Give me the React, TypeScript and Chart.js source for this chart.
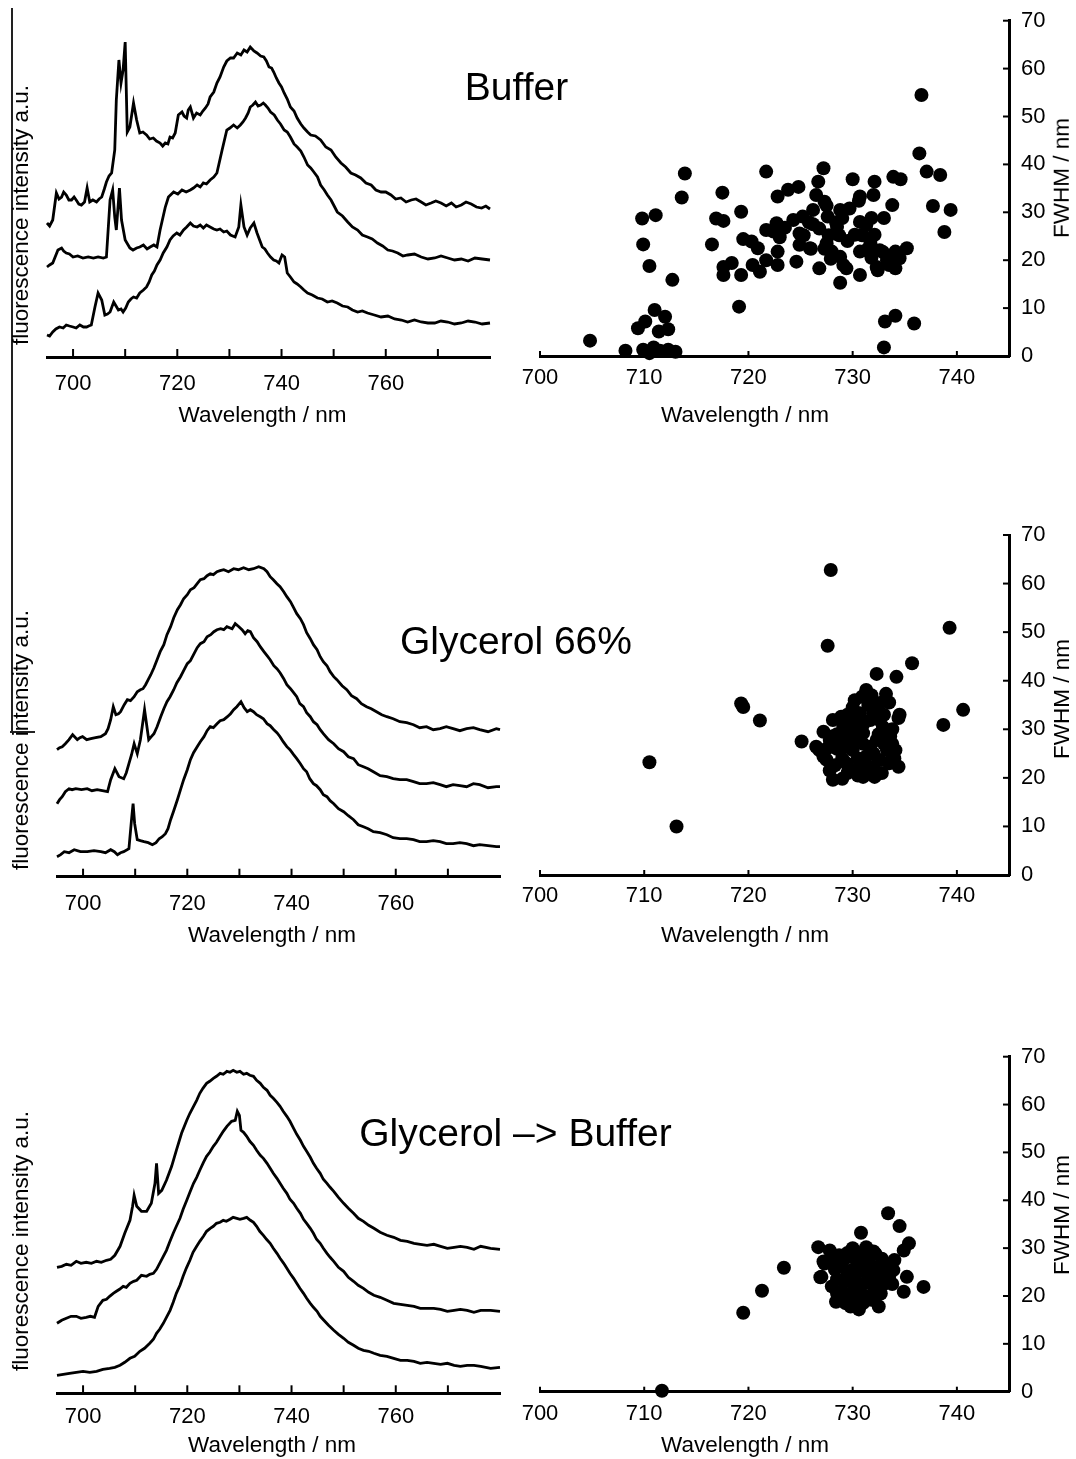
import React, { useEffect, useRef } from 'react';
import { Chart, registerables } from 'chart.js';

Chart.register(...registerables);

const FONT = '"Liberation Sans", Arial, Helvetica, sans-serif';
type Pt = [number, number];

// ---------- tick definitions ----------
const SPEC_TICKS = [700, 710, 720, 730, 740, 750, 760, 770];
const SPEC_LABELS = [700, 720, 740, 760];
const SCAT_X_TICKS = [700, 710, 720, 730, 740];
const SCAT_Y_TICKS = [0, 10, 20, 30, 40, 50, 60, 70];

// ---------- spectra: [wavelength nm, intensity a.u.] ----------
const bufferSpecTop: Pt[] = [[695,134],[695.5,131],[696.1,137],[696.8,164],[697.3,158],[697.8,160],[698.2,165],[698.7,162],[699.2,157],[699.7,157],[700.2,160],[700.6,157],[701.1,153],[701.6,152],[702.2,155],[702.7,169],[703.2,155],[703.8,157],[704.5,155],[705,158],[705.5,160],[706,168],[706.4,175],[706.9,181],[707.4,184],[708,207],[708.3,257],[708.8,297],[709.2,274],[709.6,287],[710,315],[710.4,225],[710.9,230],[711.6,254],[712.2,237],[712.8,224],[713.4,225],[714.1,222],[714.7,218],[715.4,219],[716,216],[716.7,214],[717.2,211],[717.7,214],[718.2,213],[718.6,220],[719.1,219],[719.6,224],[720.2,242],[720.9,245],[721.3,241],[721.8,239],[722.1,247],[722.5,250],[723.1,239],[723.7,244],[724.4,242],[724.9,246],[725.4,249],[725.9,253],[726.3,260],[727,265],[727.6,274],[728.2,280],[728.9,290],[729.5,296],[730.2,299],[730.8,299],[731.5,304],[732.2,302],[732.8,307],[733.4,305],[734,310],[734.7,306],[735.3,304],[736,301],[736.6,300],[737.1,296],[737.6,290],[738.1,289],[738.5,285],[739,279],[739.5,274],[740,270],[740.5,264],[741.1,258],[741.7,250],[742.4,246],[743,239],[743.7,233],[744.3,229],[745,225],[745.6,222],[746.5,221],[747.5,217],[748.5,210],[749.5,207],[750.4,200],[751.4,194],[752.3,190],[753.3,184],[754.2,182],[755.2,179],[756.2,174],[757.2,172],[758.1,167],[759.1,165],[760,165],[761,162],[761.9,158],[762.9,159],[763.9,155],[764.9,157],[765.8,158],[766.8,155],[767.7,152],[768.7,154],[769.6,156],[770.6,154],[771.6,151],[772.6,154],[773.5,150],[774.5,152],[775.4,155],[776.4,153],[777.4,150],[778.4,149],[779.2,151],[780,148]];
const bufferSpecMid: Pt[] = [[695,90],[695.5,92],[696.1,94],[697.1,107],[697.8,109],[698.2,106],[698.7,104],[699.3,103],[700,100],[700.9,101],[701.9,99],[702.9,100],[703.9,99],[704.8,100],[705.8,99],[706.4,100],[707.1,157],[707.6,167],[708,140],[708.3,127],[708.9,169],[709.3,137],[710,117],[710.9,109],[711.5,107],[712.2,109],[712.8,110],[713.5,112],[714.2,108],[714.8,110],[715.5,112],[716.1,110],[716.7,127],[717.7,150],[718.3,160],[719.3,165],[720.1,163],[720.9,167],[721.7,165],[722.5,167],[723.1,169],[723.8,172],[724.4,170],[725,174],[725.6,173],[726.3,177],[727,180],[727.6,184],[728.6,207],[729.5,227],[730.1,229],[730.8,232],[731.5,229],[732.1,232],[732.6,235],[733.1,239],[733.6,244],[734,250],[734.5,252],[735,255],[735.5,251],[736,252],[736.5,254],[736.9,252],[737.4,249],[737.9,245],[738.6,242],[739.2,237],[739.8,233],[740.5,227],[741.1,225],[741.7,220],[742.4,213],[743,210],[743.7,206],[744.3,200],[745,192],[745.6,189],[746.2,185],[746.9,180],[747.5,172],[748.2,167],[748.8,162],[749.5,157],[750.1,151],[750.7,145],[751.7,141],[752.7,135],[753.6,130],[754.6,127],[755.5,122],[756.5,120],[757.4,118],[758.4,114],[759.4,111],[760.4,107],[761.3,106],[762.3,104],[763.3,101],[764.2,102],[765.5,103],[766.8,100],[768.1,98],[769.4,99],[770.6,101],[771.9,99],[773.2,97],[774.5,98],[775.8,96],[777.1,99],[778.5,98],[780,97]];
const bufferSpecBot: Pt[] = [[695,22],[695.5,21],[696.1,25],[696.7,28],[697.4,30],[698.1,29],[698.7,32],[699.3,31],[700,30],[700.6,29],[701.3,32],[702,30],[702.6,30],[703,31],[703.5,32],[704.2,50],[704.8,64],[705.5,57],[706.1,42],[706.6,43],[707.1,45],[707.8,55],[708.7,47],[709.2,48],[709.6,45],[710.1,49],[710.6,55],[711.1,58],[711.6,60],[712.2,59],[712.8,64],[713.5,67],[714.1,70],[714.6,75],[715.1,82],[715.6,86],[716.1,92],[716.7,97],[717.3,104],[718,110],[718.6,117],[719.2,121],[719.9,124],[720.5,122],[721.2,127],[721.8,130],[722.5,134],[723.1,131],[723.8,130],[724.4,132],[725,129],[725.6,132],[726.3,130],[727,128],[727.6,127],[728.2,128],[728.9,125],[729.5,126],[730.2,122],[731.1,120],[731.8,130],[732.2,152],[732.8,130],[733.4,122],[734,129],[734.7,134],[735.3,124],[735.8,117],[736.3,110],[736.8,108],[737.3,104],[737.9,100],[738.5,97],[739,96],[739.5,94],[740.1,102],[740.6,100],[741.1,84],[741.7,80],[742.4,75],[743,73],[743.7,70],[744.3,67],[745,64],[745.9,62],[746.9,59],[747.8,58],[748.8,55],[749.7,56],[750.7,54],[751.7,51],[752.7,50],[753.6,47],[754.6,45],[755.5,46],[756.5,44],[757.8,42],[759.1,40],[760.4,41],[761.7,38],[763,37],[764.2,35],[765.5,37],[766.8,35],[768.1,34],[769.4,34],[770.6,36],[771.9,35],[773.2,33],[774.5,34],[775.8,36],[777.1,35],[778.5,33],[780,34]];

const glySpecTop: Pt[] = [[695,127],[695.5,129],[696,130],[696.6,133],[697.3,137],[698,142],[698.9,137],[699.4,139],[699.9,140],[700.7,137],[701.5,138],[702.4,139],[703.4,140],[704.3,143],[704.8,148],[705.3,157],[705.8,170],[706.3,162],[706.8,163],[707.2,165],[707.9,172],[708.5,177],[709.1,176],[709.8,180],[710.4,185],[711,187],[711.5,188],[712,192],[712.5,197],[713,202],[713.6,209],[714.2,217],[714.8,225],[715.5,232],[716.1,242],[716.8,250],[717.4,259],[718.1,267],[718.7,272],[719.3,278],[720,282],[720.6,287],[721.3,289],[721.9,293],[722.5,297],[723.2,298],[723.8,301],[724.4,303],[725,302],[725.7,305],[726.3,306],[727,307],[727.9,305],[728.9,308],[729.8,307],[730.8,309],[731.8,307],[732.7,308],[733.7,310],[734.7,308],[735.3,305],[735.9,300],[736.5,297],[737.2,293],[737.8,290],[738.5,285],[739.1,280],[739.8,275],[740.4,269],[741,263],[741.7,258],[742.3,252],[742.9,244],[743.6,238],[744.2,232],[744.9,227],[745.5,220],[746.1,215],[746.8,211],[747.4,205],[748.1,200],[748.7,197],[749.7,191],[750.6,187],[751.5,181],[752.5,178],[753.4,173],[754.4,170],[755.3,168],[756.3,165],[757.3,162],[758.3,160],[759.5,158],[760.8,155],[762.1,154],[763.4,152],[764.6,149],[765.9,150],[767.2,147],[768.5,148],[769.7,150],[771,148],[772.3,146],[773.6,148],[774.9,149],[776.1,147],[777.7,145],[779.3,148],[780,147]];
const glySpecMid: Pt[] = [[695,73],[695.5,77],[696,80],[696.6,85],[697.3,88],[697.9,87],[698.6,88],[699.7,87],[700.8,88],[701.7,86],[702.7,87],[703.7,86],[704.7,85],[705.3,97],[706.1,108],[706.9,100],[707.8,98],[708.3,104],[708.8,113],[709.3,122],[709.8,133],[710.4,123],[711,137],[711.8,167],[712.6,137],[713.1,140],[713.6,143],[714.2,150],[714.9,160],[715.5,168],[716.1,175],[716.7,180],[717.4,187],[718,194],[718.7,200],[719.3,206],[720,213],[720.6,216],[721.3,223],[721.9,229],[722.5,233],[723.2,235],[723.8,240],[724.5,242],[725.1,245],[725.7,247],[726.4,248],[727,247],[727.6,250],[728.6,248],[729.2,253],[729.9,250],[730.5,247],[731.1,243],[731.6,246],[732.1,245],[732.7,239],[733.4,235],[734,230],[734.7,225],[735.3,221],[735.9,217],[736.6,211],[737.2,208],[737.8,204],[738.5,198],[739.1,192],[739.8,188],[740.4,184],[741,180],[741.6,173],[742.3,170],[742.9,164],[743.6,160],[744.2,155],[744.9,152],[745.5,147],[746.1,143],[747.1,137],[748.1,133],[749,128],[750,125],[750.9,120],[751.9,118],[752.8,112],[753.8,110],[754.7,108],[755.7,105],[757,101],[758.3,100],[759.5,98],[760.8,97],[762.1,97],[763.4,95],[764.6,93],[765.9,93],[767.2,94],[768.5,92],[769.7,90],[771,92],[772.3,91],[773.6,90],[774.9,93],[776.1,92],[777.7,89],[779.3,90],[780,90]];
const glySpecBot: Pt[] = [[695,20],[695.7,22],[696.4,25],[697.3,24],[698.3,27],[699.5,25],[700.8,25],[702.1,26],[703.4,25],[704.3,24],[705.3,27],[706,25],[706.6,22],[707.2,24],[707.8,25],[708.8,28],[709.3,57],[709.6,73],[709.9,53],[710.4,37],[711,36],[711.7,35],[712.5,34],[713.3,32],[714,34],[714.6,38],[715.2,40],[715.8,43],[716.3,48],[716.8,57],[717.4,66],[718.1,77],[718.7,87],[719.3,97],[720,107],[720.6,117],[721.2,124],[721.9,130],[722.5,135],[723.2,140],[723.8,146],[724.4,150],[725,149],[725.7,153],[726.3,156],[727,157],[727.7,160],[728.3,163],[728.9,167],[729.5,170],[730.3,175],[730.9,169],[731.5,165],[732.1,167],[732.7,165],[733.3,162],[734,160],[734.6,158],[735.3,153],[735.9,151],[736.6,147],[737.2,144],[737.8,140],[738.4,135],[739.1,130],[739.7,127],[740.4,122],[741,118],[741.7,113],[742.3,108],[742.9,105],[743.5,98],[744.2,93],[744.8,91],[745.5,87],[746.1,82],[746.8,80],[747.4,76],[748.1,73],[749,68],[750,65],[750.9,61],[751.9,57],[752.8,52],[753.8,50],[754.7,48],[755.7,45],[757,44],[758.3,42],[759.5,39],[760.8,38],[762.1,38],[763.4,37],[764.6,35],[765.9,35],[767.2,36],[768.5,35],[769.7,33],[771,33],[772.3,34],[773.6,33],[774.9,31],[776.1,32],[777.7,31],[779.3,30],[780,30]];

const g2bSpecTop: Pt[] = [[695,126],[695.9,127],[696.8,129],[697.7,128],[698.7,132],[699.6,130],[700.6,131],[701.6,130],[702.6,132],[703.5,131],[704.5,133],[705.3,134],[706.1,138],[707.1,147],[708,160],[709,173],[709.5,187],[709.8,198],[710.3,187],[711.2,182],[712.2,182],[713.1,190],[713.8,210],[714.1,230],[714.5,200],[715.1,203],[716,213],[717,227],[717.9,243],[718.9,260],[719.9,273],[720.5,280],[721.2,287],[721.8,293],[722.4,300],[723,305],[723.7,310],[724.3,312],[725,315],[725.6,317],[726.3,320],[726.9,319],[727.6,322],[728.2,321],[728.8,323],[729.5,321],[730.1,322],[730.8,319],[731.4,320],[732,318],[732.7,317],[733.3,313],[734,310],[734.6,306],[735.3,303],[735.9,298],[736.5,295],[737.2,291],[737.8,287],[738.4,282],[739.1,277],[739.7,272],[740.4,265],[741,259],[741.7,253],[742.3,247],[742.9,242],[743.6,236],[744.2,230],[744.8,225],[745.5,220],[746.1,214],[746.8,210],[747.4,206],[748.1,202],[749,196],[750,190],[750.9,185],[751.9,180],[752.8,175],[753.8,172],[754.8,168],[755.8,165],[757,161],[758.3,158],[759.6,156],[760.9,153],[762.2,152],[763.5,150],[764.7,149],[766,148],[767.3,149],[768.6,147],[769.9,145],[771.2,146],[772.4,147],[773.7,146],[775,144],[776.3,147],[778.2,145],[780,144]];
const g2bSpecMid: Pt[] = [[695,70],[695.9,73],[696.8,75],[697.7,77],[698.7,77],[699.6,75],[700.6,76],[701.4,77],[702.2,76],[702.9,87],[703.8,93],[704.5,94],[705.1,97],[705.8,100],[706.4,102],[707,104],[707.7,107],[708.3,106],[709,110],[709.7,112],[710.3,113],[711.2,118],[712.2,117],[712.8,119],[713.5,120],[714.1,124],[714.7,130],[715.3,136],[716,143],[716.6,151],[717.3,160],[717.9,167],[718.6,175],[719.2,184],[719.9,193],[720.5,201],[721.2,210],[721.8,216],[722.4,223],[723.1,231],[723.7,237],[724.3,241],[725,247],[725.6,251],[726.3,257],[726.9,262],[727.6,267],[728.5,272],[729.2,273],[729.6,282],[730,278],[730.3,263],[730.8,261],[731.4,257],[732,252],[732.7,248],[733.3,243],[734,238],[734.6,235],[735.3,230],[735.9,225],[736.5,220],[737.2,215],[737.8,210],[738.4,205],[739.1,200],[739.7,194],[740.4,190],[741,185],[741.7,180],[742.3,174],[742.9,170],[743.6,165],[744.2,160],[744.8,154],[745.5,150],[746.1,145],[746.8,140],[747.4,136],[748.1,132],[749,126],[750,122],[750.9,116],[751.9,112],[752.8,108],[753.8,105],[754.8,101],[755.8,98],[757,96],[758.3,93],[759.6,90],[760.9,89],[762.2,88],[763.5,87],[764.7,85],[766,85],[767.3,85],[768.6,84],[769.9,82],[771.2,83],[772.4,84],[773.7,83],[775,81],[776.3,83],[778.2,83],[780,82]];
const g2bSpecBot: Pt[] = [[695,18],[696.2,19],[697.4,20],[698.7,21],[700,22],[701.3,21],[702.6,22],[703.8,24],[705.1,25],[706.1,26],[707.1,28],[708,31],[709,35],[709.9,37],[710.9,42],[711.8,45],[712.8,50],[713.5,54],[714.1,60],[714.7,64],[715.4,70],[716,76],[716.7,83],[717.3,91],[717.9,100],[718.6,108],[719.2,117],[719.8,125],[720.5,133],[721.1,141],[721.8,147],[722.4,152],[723.1,157],[723.7,162],[724.4,165],[725,167],[725.6,170],[726.3,171],[726.9,173],[727.5,172],[728.2,174],[728.8,176],[729.5,175],[730.1,174],[730.8,175],[731.4,176],[732.1,173],[732.7,171],[733.3,167],[733.9,162],[734.6,158],[735.2,154],[735.9,150],[736.5,145],[737.2,140],[737.8,135],[738.5,130],[739.1,125],[739.7,120],[740.4,115],[741,110],[741.6,105],[742.3,100],[742.9,95],[743.6,90],[744.2,86],[744.9,82],[745.5,77],[746.2,73],[747.1,68],[748.1,63],[749,59],[750,55],[750.9,51],[751.9,48],[752.8,45],[753.8,43],[754.8,42],[755.8,40],[757,38],[758.3,37],[759.6,35],[760.9,33],[762.2,33],[763.5,32],[764.7,30],[766,31],[767.3,30],[768.6,29],[769.9,30],[771.2,28],[772.4,27],[773.7,28],[775,28],[776.3,27],[778.2,25],[780,26]];

// ---------- FWHM scatter: [peak wavelength nm, FWHM nm] ----------
const bufferFwhm: Pt[] = [[704.8,3.2],[708.2,1.1],[709.9,1.3],[710.5,0.6],[711.5,1.1],[712.3,1.3],[713,0.9],[710.9,1.8],[709.4,5.8],[710.1,7.2],[711,9.6],[712,8.2],[711.4,5.1],[712.3,5.6],[709.8,28.7],[711.1,29.4],[709.9,23.3],[710.5,18.8],[712.7,15.9],[713.6,33.1],[713.9,38.1],[717.5,34.1],[716.9,28.7],[717.6,28.2],[719.3,30.1],[716.5,23.3],[717.6,18.6],[718.4,19.4],[717.6,16.9],[719.3,16.9],[719.1,10.3],[719.5,24.4],[720.3,23.9],[720.9,22.5],[720.4,19],[721.1,17.6],[721.7,38.5],[721.7,26.3],[721.7,20],[727.2,39.2],[730,36.9],[732.1,36.4],[733.9,37.4],[734.6,36.9],[736.4,42.3],[737.1,38.5],[738.4,37.8],[737.7,31.3],[739.4,30.5],[738.8,25.9],[733.8,31.5],[726.7,36.4],[724.8,35.3],[723.8,34.7],[722.8,33.3],[726.5,33.6],[727.3,32.2],[732,33.6],[730.7,33.3],[728.8,30.5],[729.7,30.8],[726.2,30.5],[725.2,29.1],[724.3,28.4],[727.6,29.1],[730.7,28],[731.3,27.3],[728.5,27],[722.7,27.7],[722.4,26],[724.9,25.6],[730.2,25.3],[732.1,25.3],[724.9,23.2],[725.9,22.5],[727.5,23.5],[728.8,20.7],[728,21.8],[730.7,21.8],[731.7,23.5],[732.6,22.1],[734.1,21.8],[735.2,22.5],[734.5,20.4],[733.3,20],[732.3,18.6],[734.1,18.3],[722.8,21.8],[722.8,19],[724.6,19.7],[726.8,18.3],[729.1,19],[730.7,16.9],[728.8,15.3],[733.1,7.2],[734.1,8.4],[735.9,6.8],[733,1.8],[736.6,54.5],[725.8,27.9],[727.5,31.4],[726.8,26.6],[727.7,25.2],[728.4,27.9],[728.7,25.2],[729.4,18.3],[730.6,32.4],[731.3,22.1],[732.4,17.9],[732.9,21.7],[733.5,19],[726,22.4],[727.3,22.4],[727.9,20.3],[725.3,25.2],[730.9,25.2],[729.5,24],[731.8,28.8],[726.2,27.5],[729,28.8],[733,28.8],[731.8,20.5],[723.5,26.8],[723,24.8]];
const glyFwhm: Pt[] = [[727.9,62.8],[727.6,47.2],[739.3,50.9],[735.7,43.6],[719.3,35.3],[719.5,34.6],[721.1,31.8],[740.6,34],[738.7,30.9],[710.5,23.2],[713.1,10],[725.1,27.5],[732.3,41.4],[734.2,40.8],[731.3,38.1],[733.2,37.3],[730.9,36.7],[732.6,35.4],[734.4,32.3],[728.1,31.9],[728.9,32.6],[730.7,33.3],[730.2,31.6],[727.2,29.5],[726.5,26.4],[727.2,24.4],[728.3,22.6],[728.1,19.6],[730.2,21.6],[732.1,20.2],[734.4,22.3],[734.1,25.7],[733.6,28.5],[732.3,27.8],[731,29.2],[729.4,28.5],[728.8,25.7],[730,25.7],[731.3,24.4],[732.6,23.7],[729.4,23],[730.7,22.3],[727.8,27.8],[729.1,30.5],[731.7,31.9],[732.9,30.5],[733.3,25.7],[731.7,26.4],[727.5,23.7],[729.4,31.2],[730.5,27.8],[732,22.3],[731,20.2],[726.8,25.7],[734.5,33],[733.8,30],[728,28.5],[728.5,26],[729,24],[729.5,26.5],[730,29.5],[730.5,24],[731,27],[731.5,22],[732,25],[732.5,29],[733,27],[733.5,23],[729.5,21],[730.5,20.5],[731.5,35],[732,33.5],[733,33],[730,34.5],[729.5,33],[731,31],[732.5,32],[731.8,37],[733.5,35.5],[728.5,29],[729,27],[727.5,26],[727.8,21.5],[729,19.8],[732.8,21],[733.8,27],[734,24],[730.2,36]];
const g2bFwhm: Pt[] = [[711.7,0.2],[719.5,16.5],[721.3,21.1],[723.4,25.9],[726.7,30.2],[727.8,29.5],[730.8,33.2],[733.4,37.3],[734.5,34.6],[735.4,31],[734.9,29.5],[736.8,21.9],[734.9,20.9],[735.2,24],[726.9,23.9],[727.3,26.8],[728.4,18.8],[732.5,17.8],[730.6,17.2],[729.7,28.2],[732,29.3],[732.9,26.8],[727.2,27.2],[727,24],[733.9,25.4],[729,27],[729.5,25],[730,23],[730.5,21],[731,26],[731.5,24],[732,22],[730,19.5],[731,18.5],[729,21],[728.5,23.5],[732.5,25],[733,22.5],[730.5,27.5],[731.5,28],[729.5,29],[732,20],[728.5,20.5],[733.5,24],[730,25.5],[731,22.5],[729.8,17.8],[731.8,19.2],[728.8,26.2],[732.8,27.8],[728,22],[728.3,25.5],[729.2,23],[729.8,20.5],[730.3,24.5],[730.8,29],[731.2,20],[731.7,26.5],[732.3,23.5],[732.7,20.5],[733.2,25.5],[729.3,18.5],[730.7,19],[732.2,28.8],[733.8,22.5],[734,27.5],[728.7,28.5],[730,30],[731.3,30.2],[728.2,27.5]];

// ---------- plugin: inward tick marks ----------
const innerTicks = {
  id: 'innerTicks',
  afterDraw(chart: any, _args: any, opts: any) {
    const { ctx, chartArea } = chart;
    ctx.save();
    ctx.strokeStyle = '#000';
    ctx.lineWidth = 2;
    const xs = chart.scales.x;
    (opts.x || []).forEach((v: number) => {
      const px = xs.getPixelForValue(v);
      ctx.beginPath();
      ctx.moveTo(px, chartArea.bottom);
      ctx.lineTo(px, chartArea.bottom - opts.xLen);
      ctx.stroke();
    });
    const ys = chart.scales.y;
    (opts.y || []).forEach((v: number) => {
      const py = ys.getPixelForValue(v);
      ctx.beginPath();
      ctx.moveTo(chartArea.right, py);
      ctx.lineTo(chartArea.right - opts.yLen, py);
      ctx.stroke();
    });
    ctx.restore();
  },
};

const tickFont = { family: FONT, size: 22 };
const axisBorder = { display: true, color: '#000', width: 3 };

function spectrumConfig(traces: Pt[][], p: { padLeft: number; padRight: number; padTop: number; xh: number; labelPad: number }) {
  return {
    type: 'scatter',
    data: {
      datasets: traces.map((t) => ({
        data: t.map(([x, y]) => ({ x, y })),
        showLine: true,
        borderColor: '#000',
        borderWidth: 2.8,
        pointRadius: 0,
        fill: false,
        clip: false,
      })),
    },
    options: {
      responsive: false,
      animation: false,
      events: [],
      layout: { padding: { left: p.padLeft, right: p.padRight, top: p.padTop, bottom: 0 } },
      plugins: { legend: { display: false }, tooltip: { enabled: false }, innerTicks: { x: SPEC_TICKS, xLen: 8 } },
      scales: {
        x: {
          type: 'linear', min: 695, max: 780,
          grid: { display: false }, border: axisBorder,
          afterBuildTicks: (s: any) => { s.ticks = SPEC_TICKS.map((v) => ({ value: v })); },
          afterFit: (s: any) => { s.height = p.xh; },
          ticks: { color: '#000', font: tickFont, padding: p.labelPad, maxRotation: 0, autoSkip: false,
            callback: (v: any) => (SPEC_LABELS.includes(Number(v)) ? String(v) : '') },
        },
        y: { display: false, min: 0, max: 340 },
      },
    },
    plugins: [innerTicks],
  };
}

function scatterConfig(points: Pt[], p: { padTop: number; xh: number; labelPad: number }) {
  return {
    type: 'scatter',
    data: {
      datasets: [{
        data: points.map(([x, y]) => ({ x, y })),
        pointRadius: 7,
        backgroundColor: '#000',
        borderColor: '#000',
        borderWidth: 0,
        clip: false,
      }],
    },
    options: {
      responsive: false,
      animation: false,
      events: [],
      layout: { padding: { left: 20, right: 27, top: p.padTop, bottom: 0 } },
      plugins: { legend: { display: false }, tooltip: { enabled: false }, innerTicks: { x: SCAT_X_TICKS, xLen: 5, y: SCAT_Y_TICKS, yLen: 6 } },
      scales: {
        x: {
          type: 'linear', min: 700, max: 745,
          grid: { display: false }, border: axisBorder,
          afterBuildTicks: (s: any) => { s.ticks = SCAT_X_TICKS.map((v) => ({ value: v })); },
          afterFit: (s: any) => { s.height = p.xh; },
          ticks: { color: '#000', font: tickFont, padding: p.labelPad, maxRotation: 0, autoSkip: false, callback: (v: any) => String(v) },
        },
        y: {
          type: 'linear', position: 'right', min: 0, max: 70,
          grid: { display: false }, border: axisBorder,
          afterBuildTicks: (s: any) => { s.ticks = SCAT_Y_TICKS.map((v) => ({ value: v })); },
          afterFit: (s: any) => { s.width = 40; },
          ticks: { color: '#000', font: tickFont, padding: 4, callback: (v: any) => String(v) },
        },
      },
    },
    plugins: [innerTicks],
  };
}

function ChartCanvas({ left, top, width, height, make }: { left: number; top: number; width: number; height: number; make: () => any }) {
  const ref = useRef<HTMLCanvasElement | null>(null);
  useEffect(() => {
    if (!ref.current) return;
    const chart = new Chart(ref.current, make());
    return () => chart.destroy();
  }, []);
  return <canvas ref={ref} width={width} height={height} style={{ position: 'absolute', left, top, width, height }} />;
}

function Label({ x, y, size, text, rotate }: { x: number; y: number; size: number; text: string; rotate?: boolean }) {
  return (
    <div style={{ position: 'absolute', left: x, top: y, transform: `translate(-50%, -50%)${rotate ? ' rotate(-90deg)' : ''}`,
      fontSize: size, lineHeight: 1, whiteSpace: 'nowrap', fontFamily: FONT, color: '#000' }}>{text}</div>
  );
}

export default function App() {
  return (
    <div style={{ position: 'absolute', left: 0, top: 0, width: 1076, height: 1459, background: '#fff', overflow: 'hidden' }}>
      {/* scan border fragments */}
      <div style={{ position: 'absolute', left: 11, top: 8, width: 1.5, height: 723, background: '#222' }} />
      <div style={{ position: 'absolute', left: 10, top: 731, width: 25, height: 1.5, background: '#222' }} />

      <ChartCanvas left={0} top={0} width={520} height={440}
        make={() => spectrumConfig([bufferSpecTop, bufferSpecMid, bufferSpecBot], { padLeft: 47, padRight: 30, padTop: 17, xh: 83, labelPad: 6.2 })} />
      <ChartCanvas left={520} top={0} width={556} height={440}
        make={() => scatterConfig(bufferFwhm, { padTop: 20.7, xh: 84, labelPad: 0.3 })} />

      <ChartCanvas left={0} top={460} width={520} height={500}
        make={() => spectrumConfig([glySpecTop, glySpecMid, glySpecBot], { padLeft: 57, padRight: 20, padTop: 76.7, xh: 83.3, labelPad: 5.7 })} />
      <ChartCanvas left={520} top={460} width={556} height={500}
        make={() => scatterConfig(glyFwhm, { padTop: 75, xh: 85, labelPad: 0 })} />

      <ChartCanvas left={0} top={980} width={520} height={479}
        make={() => spectrumConfig([g2bSpecTop, g2bSpecMid, g2bSpecBot], { padLeft: 57, padRight: 20, padTop: 73.3, xh: 65.7, labelPad: 2.5 })} />
      <ChartCanvas left={520} top={980} width={556} height={479}
        make={() => scatterConfig(g2bFwhm, { padTop: 76.7, xh: 67.3, labelPad: 1 })} />

      <Label x={516.5} y={86} size={39} text="Buffer" />
      <Label x={516} y={640} size={39} text="Glycerol 66%" />
      <Label x={515.5} y={1132} size={39} text="Glycerol –> Buffer" />

      <Label x={262.5} y={414.5} size={22.5} text="Wavelength / nm" />
      <Label x={745} y={415} size={22.5} text="Wavelength / nm" />
      <Label x={272} y={935} size={22.5} text="Wavelength / nm" />
      <Label x={745} y={935} size={22.5} text="Wavelength / nm" />
      <Label x={272} y={1445} size={22.5} text="Wavelength / nm" />
      <Label x={745} y={1445} size={22.5} text="Wavelength / nm" />

      <Label x={21} y={215} size={22.5} text="fluorescence intensity a.u." rotate />
      <Label x={21} y={740} size={22.5} text="fluorescence intensity a.u." rotate />
      <Label x={21} y={1241} size={22.5} text="fluorescence intensity a.u." rotate />

      <Label x={1062} y={178} size={22.5} text="FWHM / nm" rotate />
      <Label x={1062} y={699} size={22.5} text="FWHM / nm" rotate />
      <Label x={1062} y={1215} size={22.5} text="FWHM / nm" rotate />
    </div>
  );
}
